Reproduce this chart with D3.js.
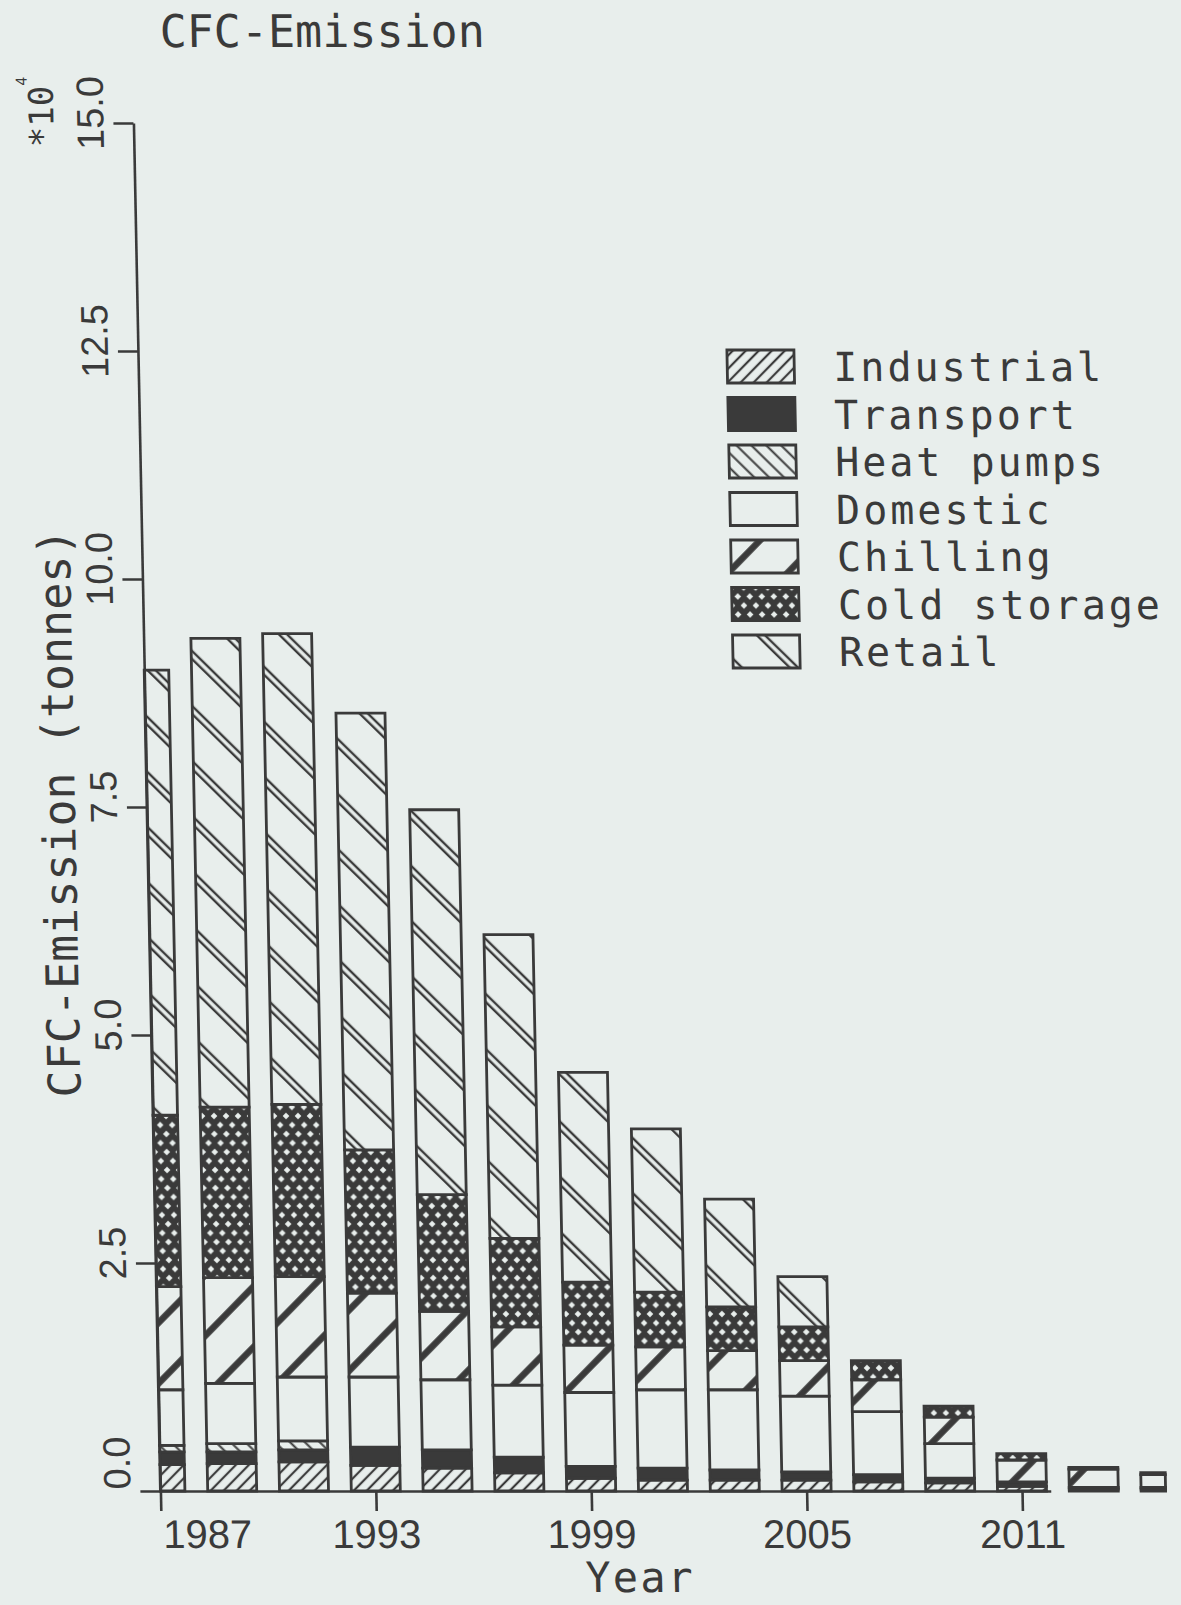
<!DOCTYPE html>
<html>
<head>
<meta charset="utf-8">
<script src="https://cdn.jsdelivr.net/npm/d3@7"></script>
<style>
  html, body { margin: 0; padding: 0; background: #e8eeec; }
  svg { display: block; }
</style>
</head>
<body>
<svg id="chart" width="1181" height="1605"></svg>
<script>
// CFC emission by sector, units of 10^4 tonnes, every second year
const years       = [1987, 1989, 1991, 1993, 1995, 1997, 1999, 2001, 2003, 2005, 2007, 2009, 2011, 2013, 2015];
const industrial  = [0.29, 0.30, 0.32, 0.28, 0.25, 0.20, 0.14, 0.12, 0.12, 0.12, 0.10, 0.09, 0.05, 0.02, 0.02];
const transport   = [0.14, 0.13, 0.13, 0.20, 0.20, 0.17, 0.13, 0.13, 0.11, 0.09, 0.08, 0.05, 0.05, 0.02, 0.02];
const heatPumps   = [0.07, 0.09, 0.10, 0.00, 0.00, 0.00, 0.00, 0.00, 0.00, 0.00, 0.00, 0.00, 0.00, 0.00, 0.00];
const domestic    = [0.61, 0.66, 0.70, 0.77, 0.77, 0.79, 0.81, 0.86, 0.88, 0.83, 0.69, 0.38, 0.00, 0.00, 0.00];
const chilling    = [1.13, 1.16, 1.10, 0.92, 0.75, 0.64, 0.52, 0.47, 0.43, 0.39, 0.35, 0.29, 0.24, 0.20, 0.14];
const coldStorage = [1.88, 1.87, 1.89, 1.57, 1.28, 0.97, 0.69, 0.60, 0.48, 0.37, 0.21, 0.12, 0.07, 0.02, 0.02];
const retail      = [4.88, 5.14, 5.16, 4.79, 4.22, 3.33, 2.30, 1.79, 1.18, 0.55, 0.00, 0.00, 0.00, 0.00, 0.00];

const seriesNames = ["Industrial", "Transport", "Heat pumps", "Domestic", "Chilling", "Cold storage", "Retail"];
const seriesValues = [industrial, transport, heatPumps, domestic, chilling, coldStorage, retail];

const xTickYears  = [1987, 1993, 1999, 2005, 2011];
const yTickValues = [0, 2.5, 5, 7.5, 10, 12.5, 15];
const yTickLabels = ["0.0", "2.5", "5.0", "7.5", "10.0", "12.5", "15.0"];

const titleText  = "CFC-Emission";
const yTitleText = "CFC-Emission (tonnes)";
const xTitleText = "Year";
const scaleBase  = "*10";
const scaleExp   = "4";

// ---- styling ----
const INK = "#3a3a3a";
const PAPER = "#e8eeec";
const MONO = "'DejaVu Sans Mono', 'Liberation Mono', monospace";
const NARROW = "'Liberation Sans Narrow', 'Liberation Sans', 'DejaVu Sans', sans-serif";

const W = 1181, H = 1605;
const svg = d3.select("#chart");
svg.append("rect").attr("width", W).attr("height", H).attr("fill", PAPER);

const defs = svg.append("defs");

// parallel-line hatch: lines perpendicular spacing `period`, rotated by `angle`
function lineHatch(id, angle, period, offsets, width) {
  const p = defs.append("pattern")
    .attr("id", id)
    .attr("patternUnits", "userSpaceOnUse")
    .attr("width", period).attr("height", period)
    .attr("patternTransform", `rotate(${angle})`);
  p.append("rect").attr("width", period).attr("height", period).attr("fill", PAPER);
  offsets.forEach(o => p.append("line")
    .attr("x1", o).attr("x2", o).attr("y1", -2).attr("y2", period + 2)
    .attr("stroke", INK).attr("stroke-width", width));
}

lineHatch("pat-0", 45, 9.2, [4.6], 2.2);          // Industrial  ////
// Transport: solid
lineHatch("pat-2", -45, 10.5, [5.2], 2.0);        // Heat pumps  \\\\
// Domestic: empty
lineHatch("pat-4", 45, 42, [21], 6.5);            // Chilling    thick /
lineHatch("pat-6", -45, 39.6, [17, 22.8], 2.4);   // Retail      paired \\

// Cold storage: dense cross-hatch leaving small diamond holes
(function () {
  const tw = 12, th = 18;
  const p = defs.append("pattern")
    .attr("id", "pat-5")
    .attr("patternUnits", "userSpaceOnUse")
    .attr("width", tw).attr("height", th);
  p.append("rect").attr("width", tw).attr("height", th).attr("fill", INK);
  const holes = [[0, 0], [tw, 0], [0, th], [tw, th], [tw / 2, th / 2]];
  const a = 3.3, b = 3.2;
  p.selectAll("path").data(holes).join("path")
    .attr("d", d => `M${d[0] - a},${d[1]}L${d[0]},${d[1] - b}L${d[0] + a},${d[1]}L${d[0]},${d[1] + b}Z`)
    .attr("fill", PAPER);
})();

const fills = ["url(#pat-0)", INK, "url(#pat-2)", PAPER, "url(#pat-4)", "url(#pat-5)", "url(#pat-6)"];

// the plotted sheet is slightly sheared
const root = svg.append("g").attr("transform", "skewX(1.13)");

// ---- scales ----
const xDomain = [1987, 2015];
const x = d3.scaleLinear().domain(xDomain).range([131, 1136.2]);
const y = d3.scaleLinear().domain([0, 15]).range([1491, 123]);
const axisEndYear = 2011.8;
const barW = 49;

// bar edges, trimmed to the plotted year range
const barLeft  = yr => Math.max(x(yr) - barW / 2, x(xDomain[0]));
const barRight = yr => Math.min(x(yr) + barW / 2, x(xDomain[1]));

// ---- stacked bars ----
const rows = years.map((yr, i) => {
  const r = { year: yr };
  seriesNames.forEach((k, j) => { r[k] = seriesValues[j][i]; });
  return r;
});
const stacked = d3.stack().keys(seriesNames)(rows);

const barsG = root.append("g");
stacked.forEach((layer, li) => {
  barsG.append("g")
    .selectAll("rect")
    .data(layer.filter(d => d[1] - d[0] > 0))
    .join("rect")
    .attr("x", d => barLeft(d.data.year))
    .attr("y", d => y(d[1]))
    .attr("width", d => barRight(d.data.year) - barLeft(d.data.year))
    .attr("height", d => y(d[0]) - y(d[1]))
    .attr("fill", fills[li])
    .attr("stroke", INK)
    .attr("stroke-width", 2.8)
    .attr("stroke-linejoin", "miter");
});

// ---- axes ----
const yAxisG = root.append("g")
  .attr("transform", `translate(${x(1987)},0)`)
  .call(d3.axisLeft(y).tickValues(yTickValues).tickSize(20).tickSizeOuter(0).tickFormat(() => ""));

const xAxisScale = d3.scaleLinear().domain([1987, axisEndYear]).range([x(1987), x(axisEndYear)]);
const xAxisG = root.append("g")
  .attr("transform", `translate(0,${y(0)})`)
  .call(d3.axisBottom(xAxisScale).tickValues(xTickYears).tickSize(20).tickSizeOuter(0).tickFormat(() => ""));

[yAxisG, xAxisG].forEach(g => {
  g.select(".domain").attr("stroke", INK).attr("stroke-width", 2.6);
  g.selectAll(".tick line").attr("stroke", INK).attr("stroke-width", 2.6);
  g.selectAll(".tick text").remove();
});

// x tick labels
root.append("g").selectAll("text")
  .data(xTickYears)
  .join("text")
  .attr("x", (d, i) => i === 0 ? x(d) + 2 : x(d))
  .attr("y", 1548)
  .attr("text-anchor", (d, i) => i === 0 ? "start" : "middle")
  .attr("font-family", NARROW)
  .attr("font-size", 40)
  .attr("fill", INK)
  .text(d => d);

// y tick labels (rotated)
root.append("g").selectAll("text")
  .data(yTickValues)
  .join("text")
  .attr("transform", (d, i) => `translate(101,${y(d) - (i === 0 ? 28 : 10)}) rotate(-90)`)
  .attr("text-anchor", "middle")
  .attr("font-family", NARROW)
  .attr("font-size", 38)
  .attr("fill", INK)
  .text((d, i) => yTickLabels[i]);

// scale factor note
const sf = root.append("text")
  .attr("transform", "translate(51,112) rotate(-90)")
  .attr("text-anchor", "middle")
  .attr("font-family", MONO)
  .attr("font-size", 34)
  .attr("fill", INK);
sf.append("tspan").text(scaleBase);
sf.append("tspan").attr("dy", -26).attr("font-size", 15).text(scaleExp);

// titles
root.append("text")
  .attr("x", 159).attr("y", 47)
  .attr("font-family", MONO).attr("font-size", 45).attr("fill", INK)
  .text(titleText);

root.append("text")
  .attr("transform", "translate(59,813) rotate(-90)")
  .attr("text-anchor", "middle")
  .attr("font-family", MONO).attr("font-size", 45).attr("fill", INK)
  .text(yTitleText);

root.append("text")
  .attr("x", 609).attr("y", 1592)
  .attr("text-anchor", "middle")
  .attr("font-family", MONO).attr("font-size", 42)
  .attr("letter-spacing", 2).attr("fill", INK)
  .text(xTitleText);

// ---- legend ----
const legend = root.append("g").attr("transform", "translate(720,350)");
const item = legend.selectAll("g")
  .data(seriesNames)
  .join("g")
  .attr("transform", (d, i) => `translate(0,${i * 47.5})`);
item.append("rect")
  .attr("width", 67).attr("height", 33)
  .attr("fill", (d, i) => fills[i])
  .attr("stroke", INK).attr("stroke-width", 2.8);
item.append("text")
  .attr("x", 106).attr("y", 31)
  .attr("font-family", MONO).attr("font-size", 40)
  .attr("letter-spacing", 3).attr("fill", INK)
  .text(d => d);
</script>
</body>
</html>
